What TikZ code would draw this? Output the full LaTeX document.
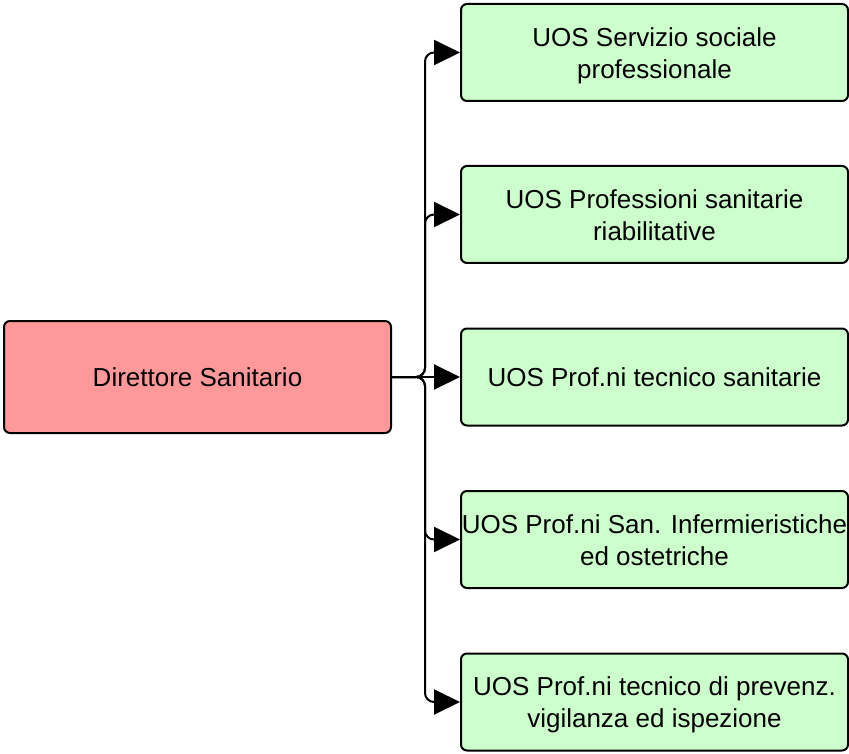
\documentclass[tikz,border=0pt]{standalone}
\usepackage{fontspec}
\setmainfont{Liberation Sans}
\usetikzlibrary{arrows.meta}
\definecolor{redfill}{HTML}{FF9999}
\definecolor{greenfill}{HTML}{CCFFCC}
\newcommand{\twolines}[2]{\begin{tabular}{@{}c@{}}\rule{0pt}{29pt}#1\\#2\end{tabular}}
\begin{document}
\begin{tikzpicture}[x=1pt,y=-1pt,
  box/.style={draw=black,line width=2pt,rounded corners=6pt,inner sep=0pt,align=center,
    font=\fontsize{26}{32}\selectfont},
  leftbox/.style={box,fill=redfill,minimum width=387pt,minimum height=112pt},
  rightbox/.style={box,fill=greenfill,minimum width=387pt,minimum height=97pt},
  conn/.style={draw=black,line width=2pt,rounded corners=9pt,-{Triangle[length=26pt,width=25pt]}}]
\useasboundingbox (0,0) rectangle (849,754);
\node[leftbox] (L) at (197.5,377) {Direttore Sanitario};
\node[rightbox] (R1) at (654.5,52.5) {\twolines{UOS Servizio sociale}{professionale}};
\node[rightbox] (R2) at (654.5,214.5) {\twolines{UOS Professioni sanitarie}{riabilitative}};
\node[rightbox] (R3) at (654.5,377) {UOS Prof.ni tecnico sanitarie};
\node[rightbox] (R4) at (654.5,539.5) {\twolines{UOS Prof.ni San. Infermieristiche}{ed ostetriche}};
\node[rightbox] (R5) at (654.5,702) {\twolines{UOS Prof.ni tecnico di prevenz.}{vigilanza ed ispezione}};
\coordinate (J) at (425,377);
\draw[conn] (L.east) -- (J) |- (R1.west);
\draw[conn] (L.east) -- (J) |- (R2.west);
\draw[conn] (L.east) -- (R3.west);
\draw[conn] (L.east) -- (J) |- (R4.west);
\draw[conn] (L.east) -- (J) |- (R5.west);
\end{tikzpicture}
\end{document}
